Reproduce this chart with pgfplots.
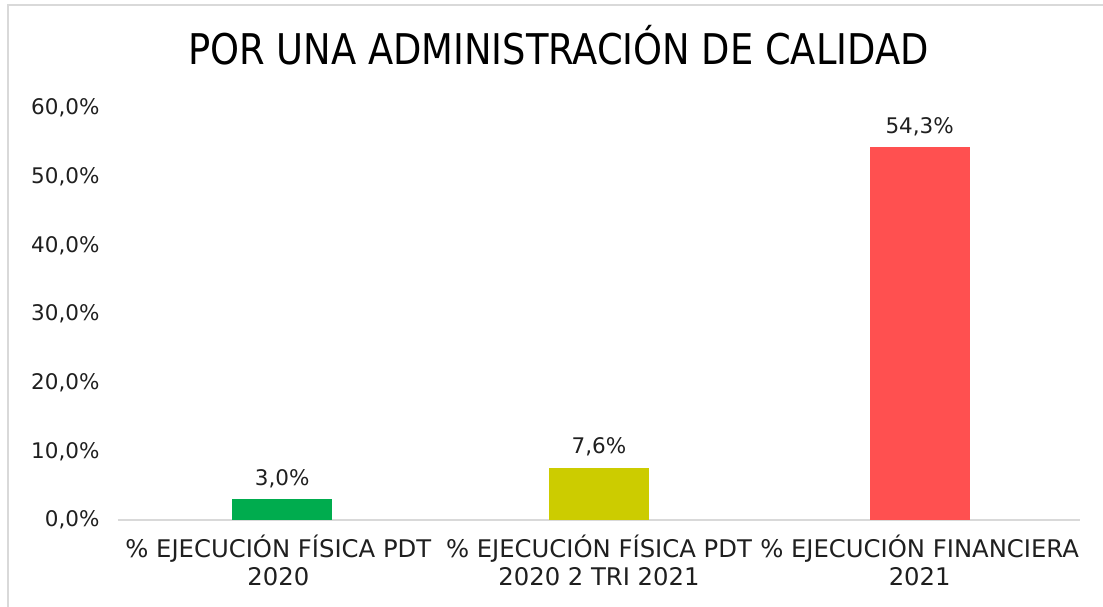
\documentclass[border=0pt]{standalone}
\usepackage{pgfplots}
\pgfplotsset{compat=1.18}
\usepackage{fontspec}
\setmainfont{DejaVu Sans}
\newfontfamily\condfont{DejaVu Sans Condensed}
\definecolor{cgreen}{HTML}{00AC4E}
\definecolor{cyellow}{HTML}{CCCC00}
\definecolor{cred}{HTML}{FF5050}
\definecolor{cgrid}{HTML}{D9D9D9}
\begin{document}
\begin{tikzpicture}[x=1pt,y=1pt]
\useasboundingbox (-118,-86) rectangle (985,520);
\draw[cgrid,line width=2pt] (-110,-90) -- (-110,515) -- (990,515);
\begin{axis}[
  at={(0,0)}, anchor=south west,
  scale only axis, width=962pt, height=412pt,
  ymin=0, ymax=60, xmin=-0.5, xmax=2.5,
  ytick={0,10,...,60},
  xtick={0,1,2},
  xticklabels={{\% EJECUCIÓN FÍSICA PDT\\2020},{\% EJECUCIÓN FÍSICA PDT\\2020 2 TRI 2021},{\% EJECUCIÓN FINANCIERA\\2021}},
  xticklabel style={align=center, font=\fontsize{24.3}{28.5}\selectfont, text=black!88, yshift=-11pt},
  yticklabel style={font=\fontsize{21.5}{26}\selectfont, text=black!88, xshift=-15pt},
  /pgf/number format/.cd, use comma, fixed, fixed zerofill, precision=1, assume math mode=true,
  /pgfplots/.cd,
  yticklabel={\pgfmathprintnumber{\tick}\%},
  axis y line*=left,
  y axis line style={draw=none},
  axis x line*=bottom,
  x axis line style={cgrid, line width=1.5pt, -},
  xtick style={draw=none},
  major tick length=0pt,
  ytick style={draw=none},
  ybar, bar width=100pt,
  every axis plot/.append style={bar shift=0pt, draw=none},
  point meta=y,
  nodes near coords={\pgfmathprintnumber[use comma,fixed,fixed zerofill,precision=1]{\pgfplotspointmeta}\%},
  nodes near coords style={font=\fontsize{21.5}{26}\selectfont, text=black!88, yshift=8pt},
  title={\condfont\scalebox{0.91}[0.94]{POR UNA ADMINISTRACIÓN DE CALIDAD}},
  title style={font=\fontsize{45}{50}\selectfont, at={(0.458,1)}, yshift=33pt, anchor=south},
  clip=false,
]
\addplot[fill=cgreen] coordinates {(0.012,3.0)};
\addplot[fill=cyellow] coordinates {(1,7.6)};
\addplot[fill=cred] coordinates {(2,54.3)};
\end{axis}
\end{tikzpicture}
\end{document}
